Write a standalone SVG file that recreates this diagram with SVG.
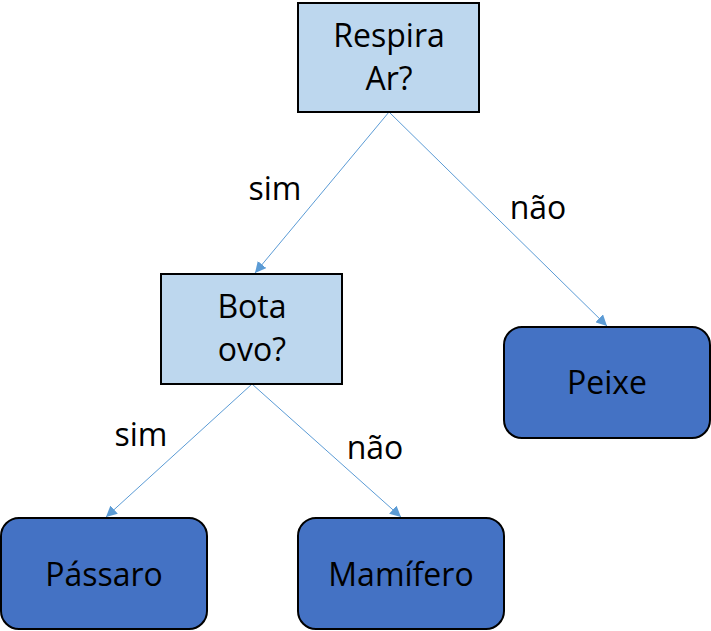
<svg xmlns="http://www.w3.org/2000/svg" width="711" height="631" viewBox="0 0 711 631">
<style>
.q{fill:#BDD7EE;stroke:#000;stroke-width:2}
.l{fill:#4472C4;stroke:#000;stroke-width:2}
text{font-family:"Open Sans","Liberation Sans",sans-serif;font-size:32px;fill:#000;text-anchor:middle}
.e{stroke:#5B9BD5;stroke-width:1;fill:none;marker-end:url(#a)}
</style>
<defs>
<marker id="a" viewBox="0 0 10 10" refX="10" refY="5" markerWidth="11" markerHeight="11" markerUnits="userSpaceOnUse" orient="auto">
<path d="M0,0L10,5L0,10z" fill="#5B9BD5"/>
</marker>
</defs>
<g id="connectors">
<line class="e" x1="389" y1="112" x2="255" y2="273"/>
<line class="e" x1="389" y1="112" x2="607" y2="326"/>
<line class="e" x1="252" y1="384" x2="106" y2="517"/>
<line class="e" x1="252" y1="384" x2="401" y2="517"/>
<text x="275" y="200">sim</text>
<text x="538" y="219">não</text>
<text x="141" y="446">sim</text>
<text x="375" y="459">não</text>
</g>
<g id="respira">
<rect class="q" x="298" y="3" width="181" height="109"/>
<text x="389" y="47">Respira</text>
<text x="389" y="90">Ar?</text>
</g>
<g id="bota">
<rect class="q" x="161" y="274" width="181" height="110"/>
<text x="252" y="318">Bota</text>
<text x="252" y="361">ovo?</text>
</g>
<g id="peixe">
<rect class="l" x="504" y="327" width="206" height="111" rx="18"/>
<text x="607" y="394">Peixe</text>
</g>
<g id="passaro">
<rect class="l" x="1" y="518" width="206" height="111" rx="18"/>
<text x="104" y="586">Pássaro</text>
</g>
<g id="mamifero">
<rect class="l" x="298" y="518" width="206" height="111" rx="18"/>
<text x="401" y="586">Mamífero</text>
</g>
</svg>
